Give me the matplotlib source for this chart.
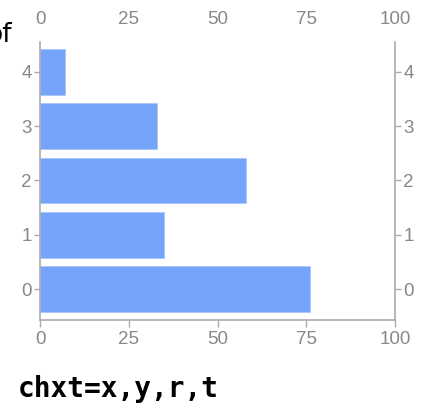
import matplotlib.pyplot as plt

cats = [0, 1, 2, 3, 4]
vals = [76, 35, 58, 33, 7]
xticks = [0, 25, 50, 75, 100]

fig = plt.figure(figsize=(4.34, 4.08), dpi=100)
ax = fig.add_axes([40/434, 1-320/408, 355/434, 278/408])

ax.barh(cats, vals, height=0.84, color='#76A4FB', edgecolor='#a8c6fd', linewidth=0.6)
ax.set_xlim(0, 100)
ax.set_ylim(-0.57, 4.55)

grey = '#aaaaaa'
lab = '#888888'
for s in ['left', 'right', 'bottom']:
    ax.spines[s].set_color(grey)
    ax.spines[s].set_linewidth(1.2)
ax.spines['top'].set_visible(False)

ax.set_xticks(xticks)
ax.set_yticks(cats)
ax.tick_params(axis='x', colors=grey, labelcolor=lab, labelsize=13.5,
               length=5, width=1, labeltop=True, pad=3)
ax.tick_params(axis='x', top=False)
ax.tick_params(axis='y', colors=grey, labelcolor=lab, labelsize=13.5,
               length=4, width=1, right=True, labelright=True, pad=2)
for t in ax.get_xticklabels() + ax.get_yticklabels():
    t.set_family('Liberation Sans')
for t in ax.xaxis.get_ticklabels(which='both'):
    pass
for tk in ax.xaxis.get_major_ticks():
    tk.label2.set_family('Liberation Sans')
    tk.label2.set_y(1.01)
for tk in ax.yaxis.get_major_ticks():
    tk.label2.set_family('Liberation Sans')

fig.text(12/434, 1-35/408, 'of', ha='right', va='center', fontsize=19,
         family='DejaVu Sans', color='black')
fig.text(18/434, 1-389/408, 'chxt=x,y,r,t', ha='left', va='center', fontsize=20,
         family='DejaVu Sans Mono', fontweight='bold', color='black')

fig.savefig('out.png', dpi=100)
